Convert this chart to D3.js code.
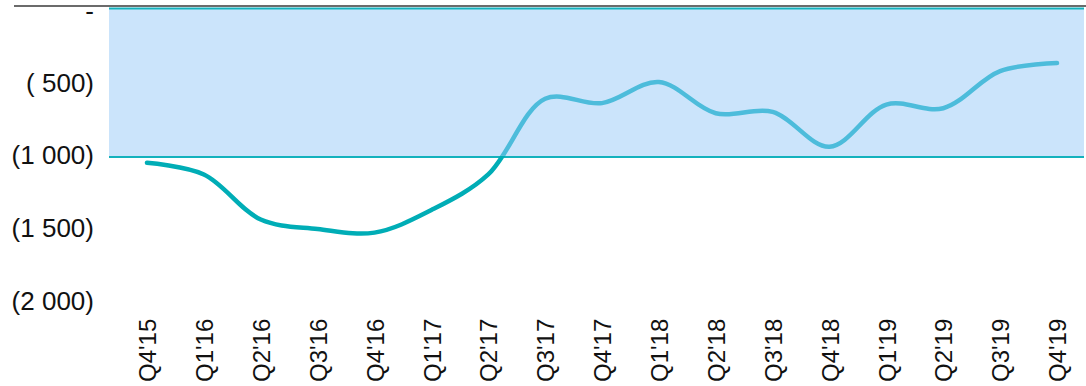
<!DOCTYPE html>
<html>
<head>
<meta charset="utf-8">
<script src="https://cdn.jsdelivr.net/npm/d3@7"></script>
<style>
  html, body { margin: 0; padding: 0; background: #fff; }
  svg { display: block; font-family: "Liberation Sans", Arial, sans-serif; }
</style>
</head>
<body>
<svg id="chart" width="1086" height="386"></svg>
<script>
// Quarterly values (thousands), shaded target band and axis labels
const quarters = ["Q4'15","Q1'16","Q2'16","Q3'16","Q4'16","Q1'17","Q2'17","Q3'17","Q4'17",
                  "Q1'18","Q2'18","Q3'18","Q4'18","Q1'19","Q2'19","Q3'19","Q4'19"];
const values = [-1050, -1130, -1440, -1505, -1530, -1375, -1130, -610, -640,
                -495, -710, -700, -940, -650, -675, -420, -365];
const bandRange = [0, -1000];
const yTicks = [0, -500, -1000, -1500, -2000];
const yTickLabels = ["-", "( 500)", "(1 000)", "(1 500)", "(2 000)"];

const svg = d3.select("#chart");
const plotLeft = 109, plotRight = 1084;

const x = d3.scalePoint().domain(quarters).range([147, 1057]);
const y = d3.scaleLinear().domain([0, -2000]).range([10, 301]);

// top rule
svg.append("line")
  .attr("x1", 14).attr("x2", 1086).attr("y1", 6).attr("y2", 6)
  .attr("stroke", "#3a3a3a").attr("stroke-width", 1.5);

// shaded band
const bandTop = y(bandRange[0]) - 1.5, bandBottom = y(bandRange[1]) + 1.5;
svg.append("rect")
  .attr("x", plotLeft).attr("y", bandTop)
  .attr("width", plotRight - plotLeft).attr("height", bandBottom - bandTop)
  .attr("fill", "#cbe4fb");
[bandTop, bandBottom].forEach(v => {
  svg.append("line")
    .attr("x1", plotLeft).attr("x2", plotRight).attr("y1", v).attr("y2", v)
    .attr("stroke", "#14b2bd").attr("stroke-width", 2);
});

// y axis labels
const yAxis = d3.axisLeft(y).tickValues(yTicks).tickSize(0)
  .tickFormat((d, i) => yTickLabels[i]);
const yg = svg.append("g").attr("transform", "translate(94,0)").call(yAxis);
yg.select(".domain").remove();
yg.selectAll("text").attr("x", 0).attr("font-size", 26).attr("fill", "#111")
  .attr("font-family", "Liberation Sans, Arial, sans-serif")
  .attr("dy", (d) => d === 0 ? "0.38em" : "0.32em");

// x axis labels (rotated)
const xAxis = d3.axisBottom(x).tickSize(0);
const xg = svg.append("g").attr("transform", "translate(0,382)").call(xAxis);
xg.select(".domain").remove();
xg.selectAll("text")
  .attr("font-size", 24).attr("fill", "#111")
  .attr("font-family", "Liberation Sans, Arial, sans-serif")
  .attr("transform", "rotate(-90)")
  .attr("x", 0).attr("y", 0).attr("dy", "0.36em")
  .attr("text-anchor", "start");

// line, coloured differently inside and outside the band
const line = d3.line()
  .x((d, i) => x(quarters[i]))
  .y(d => y(d))
  .curve(d3.curveCatmullRom.alpha(0.5));

const defs = svg.append("defs");
defs.append("clipPath").attr("id", "inBand").append("rect")
  .attr("x", 0).attr("y", 0).attr("width", 1086).attr("height", y(bandRange[1]));
defs.append("clipPath").attr("id", "outBand").append("rect")
  .attr("x", 0).attr("y", y(bandRange[1])).attr("width", 1086).attr("height", 386);

svg.append("path").datum(values)
  .attr("d", line).attr("fill", "none")
  .attr("stroke", "#00adb6").attr("stroke-width", 4.5)
  .attr("stroke-linecap", "round")
  .attr("clip-path", "url(#outBand)");
svg.append("path").datum(values)
  .attr("d", line).attr("fill", "none")
  .attr("stroke", "#4dbcdb").attr("stroke-width", 4.5)
  .attr("stroke-linecap", "round")
  .attr("clip-path", "url(#inBand)");
</script>
</body>
</html>
